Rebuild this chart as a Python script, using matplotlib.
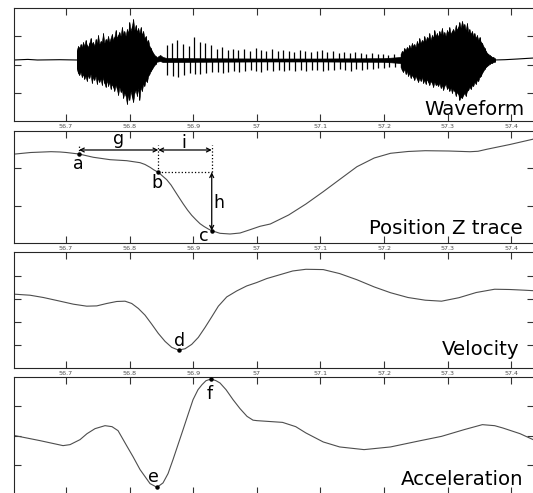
import matplotlib
matplotlib.use('Agg')
import matplotlib.pyplot as plt
import numpy as np

plt.rcParams['font.family'] = ['DejaVu Sans']

W, H = 533, 493
fig = plt.figure(figsize=(W / 100, H / 100), dpi=100)

# ---------------- data ----------------
x_ticks = [56.7, 56.8, 56.9, 57.0, 57.1, 57.2, 57.3, 57.4]
x_tick_labels = ['56.7', '56.8', '56.9', '57', '57.1', '57.2', '57.3', '57.4']
t_min, t_max = 56.6182, 57.4358

# Waveform (arbitrary amplitude units) -- envelope samples
wave_offset = 4.5
wave_dt = 0.00197
base_left_t = [56.6182, 56.640, 56.655, 56.690, 56.7169]
base_left_v = [0.0, 0.6, 0.0, 0.3, 0.0]
base_right_t = [57.3738, 57.39, 57.41, 57.425, 57.4358]
base_right_v = [0.0, 0.3, 1.0, 1.6, 2.0]

burst1_t0 = 56.7169
burst1_hi = [10, 14, 12, 16, 13, 18, 14, 20, 15, 13, 17, 22, 16, 18, 14, 21, 17, 25, 16, 19,
             18, 27, 17, 21, 19, 24, 18, 22, 26, 20, 23, 30, 22, 25, 28, 24, 33, 26, 29, 24,
             31, 27, 38, 29, 34, 41, 30, 35, 28, 32, 27, 33, 25, 29, 22, 24, 18, 20, 14, 12,
             9, 7, 5, 4]
burst1_lo = [9, 13, 15, 12, 17, 14, 19, 16, 21, 15, 18, 14, 23, 17, 20, 16, 24, 18, 22, 19,
             25, 17, 23, 27, 20, 26, 22, 29, 24, 27, 31, 25, 29, 35, 27, 32, 30, 38, 33, 36,
             44, 35, 40, 31, 37, 42, 33, 30, 36, 28, 40, 27, 31, 24, 26, 20, 22, 16, 14, 11,
             9, 7, 5, 4]

burst2_t0 = 57.2260
burst2_hi = [6, 9, 8, 12, 10, 13, 11, 15, 12, 17, 14, 16, 13, 19, 15, 22, 17, 20, 18, 24,
             19, 23, 21, 27, 20, 25, 22, 30, 24, 27, 23, 29, 26, 32, 25, 28, 24, 30, 27, 33,
             26, 29, 31, 28, 35, 30, 33, 38, 32, 39, 34, 36, 30, 37, 28, 31, 26, 29, 24, 27,
             22, 25, 20, 23, 18, 17, 14, 12, 9, 7, 6, 5, 4, 3, 3, 2]
burst2_lo = [7, 10, 12, 9, 14, 11, 16, 13, 18, 15, 17, 20, 16, 19, 22, 18, 21, 17, 23, 20,
             24, 19, 22, 25, 21, 23, 27, 22, 25, 24, 26, 23, 28, 25, 30, 26, 24, 29, 27, 31,
             28, 33, 29, 31, 36, 32, 34, 40, 37, 38, 35, 33, 36, 31, 30, 27, 29, 25, 26, 22,
             24, 20, 21, 17, 16, 13, 11, 9, 7, 6, 5, 4, 3, 3, 2, 2]

mid_t = [56.841, 56.848, 56.852, 56.858, 56.90, 57.00, 57.10, 57.20, 57.226]
mid_hi = [2, 5, 3, 2, 1.8, 1.5, 1.5, 1.8, 3]
mid_lo = [2, 1, 2, 2, 1.8, 1.5, 1.5, 1.8, 3]

pulse_t = [56.858, 56.867, 56.875, 56.884, 56.893, 56.902, 56.910, 56.919,
           56.928, 56.937, 56.945, 56.954, 56.963, 56.971, 56.980, 56.989,
           56.998, 57.006, 57.015, 57.024, 57.033, 57.041, 57.050, 57.059,
           57.068, 57.076, 57.085, 57.094, 57.102, 57.111, 57.120, 57.129,
           57.137, 57.146, 57.155, 57.164, 57.172, 57.181, 57.190, 57.198,
           57.207, 57.216]
pulse_hi = [15, 17, 20, 16, 14, 23, 18, 17, 15, 11, 13, 10, 11, 10, 11, 9,
            12, 10, 9, 11, 9, 10, 9, 8, 10, 9, 8, 9, 10, 8, 9, 7,
            8, 7, 8, 7, 6, 7, 6, 6, 5, 6]
pulse_lo = [15, 16, 17, 15, 13, 14, 14, 13, 12, 12, 13, 12, 11, 12, 11, 10,
            11, 12, 10, 11, 10, 11, 10, 11, 10, 11, 10, 10, 11, 10, 10, 9,
            10, 11, 9, 10, 9, 9, 8, 8, 7, 7]

# Position Z trace
pos_t = [56.6203, 56.6443, 56.6764, 56.6906, 56.7005, 56.7204, 56.7429, 56.7692,
         56.7954, 56.8164, 56.8242, 56.8321, 56.8384, 56.8451, 56.8517, 56.8583,
         56.8651, 56.8714, 56.8777, 56.8844, 56.8910, 56.8976, 56.9044, 56.9107,
         56.9170, 56.9237, 56.9291, 56.9421, 56.9579, 56.9736, 56.9893, 57.0050,
         57.0211, 57.0500, 57.0772, 57.1044, 57.1302, 57.1574, 57.1846, 57.2102,
         57.2376, 57.2648, 57.3017, 57.3352, 57.3478, 57.3615, 57.3981, 57.4358]
pos_v = [2.379, 2.419, 2.441, 2.433, 2.419, 2.379, 2.292, 2.228,
         2.201, 2.148, 2.100, 2.025, 1.953, 1.892, 1.793, 1.695,
         1.553, 1.386, 1.220, 1.047, 0.887, 0.746, 0.626, 0.522,
         0.448, 0.381, 0.336, 0.266, 0.248, 0.274, 0.362, 0.453,
         0.514, 0.754, 1.047, 1.375, 1.700, 2.041, 2.273, 2.398,
         2.446, 2.467, 2.459, 2.440, 2.452, 2.505, 2.633, 2.780]
pt_a = (56.7204, 2.379)
pt_b = (56.8451, 1.892)
pt_c = (56.9291, 0.336)
arrow_level = 2.486
guide_top = 2.627

# Velocity
vel_t = [56.6198, 56.6434, 56.6643, 56.6906, 56.7115, 56.7325, 56.7483, 56.7640,
         56.7797, 56.7928, 56.8033, 56.8137, 56.8242, 56.8347, 56.8451, 56.8557,
         56.8662, 56.8766, 56.8871, 56.8976, 56.9080, 56.9186, 56.9291, 56.9395,
         56.9527, 56.9684, 56.9841, 56.9998, 57.0156, 57.0564, 57.0772, 57.1044,
         57.1302, 57.1574, 57.1846, 57.2102, 57.2376, 57.2648, 57.2904, 57.3178,
         57.3450, 57.3739, 57.3980, 57.4219, 57.4358]
vel_v = [0.193, 0.150, 0.052, -0.107, -0.236, -0.322, -0.310, -0.206,
         -0.120, -0.107, -0.206, -0.421, -0.709, -1.096, -1.496, -1.840,
         -2.098, -2.214, -2.158, -1.969, -1.668, -1.238, -0.782, -0.322,
         0.077, 0.335, 0.550, 0.696, 0.868, 1.195, 1.268, 1.255,
         1.083, 0.817, 0.507, 0.258, 0.052, -0.064, -0.107, 0.043,
         0.267, 0.408, 0.396, 0.365, 0.344]
pt_d = (56.8781, -2.225)

# Acceleration
acc_t = [56.6198, 56.6591, 56.6953, 56.7063, 56.7220, 56.7330, 56.7456, 56.7613,
         56.7723, 56.7818, 56.7959, 56.8053, 56.8164, 56.8321, 56.8431, 56.8525,
         56.8604, 56.8682, 56.8761, 56.8840, 56.8918, 56.8997, 56.9075, 56.9138,
         56.9201, 56.9280, 56.9358, 56.9421, 56.9516, 56.9626, 56.9736, 56.9846,
         56.9940, 57.0003, 57.0404, 57.0612, 57.0772, 57.1044, 57.1302, 57.1686,
         57.2102, 57.2536, 57.2904, 57.3258, 57.3546, 57.3739, 57.3866, 57.4138,
         57.4358]
acc_v = [0.000, -0.171, -0.342, -0.308, -0.137, 0.068, 0.240, 0.342,
         0.308, 0.171, -0.366, -0.719, -1.164, -1.644, -1.771, -1.620,
         -1.301, -0.822, -0.308, 0.205, 0.719, 1.233, 1.575, 1.747,
         1.884, 1.942, 1.884, 1.805, 1.575, 1.233, 0.925, 0.661,
         0.531, 0.514, 0.455, 0.308, 0.092, -0.216, -0.387, -0.479,
         -0.387, -0.188, -0.024, 0.205, 0.377, 0.342, 0.264, 0.068,
         -0.150]
pt_e = (56.8426, -1.771)
pt_f = (56.9280, 1.942)

# ---------------- layout ----------------
LEFT, RIGHT = 14, 534


def rect(top, bottom):
    return [LEFT / W, 1 - bottom / H, (RIGHT - LEFT) / W, (bottom - top) / H]


def style(ax, ylim, yticks, labels=True):
    ax.set_xlim(t_min, t_max)
    ax.set_ylim(*ylim)
    ax.set_xticks(x_ticks)
    ax.set_xticklabels(x_tick_labels)
    ax.set_yticks(yticks)
    ax.set_yticklabels([])
    ax.tick_params(axis='both', direction='in', length=5, width=0.8,
                   color='0.2', top=True, right=True)
    ax.tick_params(axis='x', labelsize=4.6, labelcolor='0.3', pad=2,
                   labelbottom=labels)
    for s in ax.spines.values():
        s.set_color('0.15')
        s.set_linewidth(0.8)


def panel_label(ax, text, x, y):
    ax.text(x, y, text, transform=ax.transAxes, ha='right', va='baseline',
            fontsize=14.2, color='k', zorder=5)


curve_kw = dict(color='0.3', lw=0.8)
pt_kw = dict(marker='o', ms=2.2, color='k', ls='none', zorder=4)
lab_kw = dict(textcoords='offset points', ha='center', va='baseline',
              fontsize=12.5, color='k')

ax1 = fig.add_axes(rect(8, 121))
ax2 = fig.add_axes(rect(130.7, 243.3))
ax3 = fig.add_axes(rect(252.3, 368.3))
ax4 = fig.add_axes(rect(377.3, 494))

# ---- Waveform ----
style(ax1, (-56.5, 56.5), [-28.25, 0, 28.25])
ax1.plot(base_left_t, np.array(base_left_v) + wave_offset, color='k', lw=0.8)
ax1.plot(base_right_t, np.array(base_right_v) + wave_offset, color='k', lw=0.8)
ax1.fill_between(mid_t, wave_offset - np.array(mid_lo), wave_offset + np.array(mid_hi),
                 color='k', lw=0.5)
for t0, bh, bl in [(burst1_t0, burst1_hi, burst1_lo), (burst2_t0, burst2_hi, burst2_lo)]:
    bt = t0 + wave_dt * np.arange(len(bh))
    lo = wave_offset - np.array(bl)
    hi = wave_offset + np.array(bh)
    ax1.fill_between(bt, lo, hi, color='k', lw=0.4)
    ax1.vlines(bt, lo, hi, color='k', lw=0.7)
ax1.vlines(pulse_t, wave_offset, wave_offset + np.array(pulse_hi), color='k', lw=0.9)
ax1.vlines(np.array(pulse_t) + 0.0013, wave_offset - np.array(pulse_lo), wave_offset,
           color='k', lw=0.9)
panel_label(ax1, 'Waveform', 0.981, 0.053)

# ---- Position Z ----
style(ax2, (0, 3), [1, 2])
ax2.plot(pos_t, pos_v, **curve_kw)
ax2.plot([pt_a[0], pt_b[0], pt_c[0]], [pt_a[1], pt_b[1], pt_c[1]], **pt_kw)
dot_kw = dict(color='k', lw=0.9, ls=':')
ax2.plot([pt_a[0], pt_a[0]], [pt_a[1], guide_top], **dot_kw)
ax2.plot([pt_b[0], pt_b[0]], [pt_b[1], guide_top], **dot_kw)
ax2.plot([pt_c[0], pt_c[0]], [pt_b[1], guide_top], **dot_kw)
ax2.plot([pt_b[0], pt_c[0]], [pt_b[1], pt_b[1]], **dot_kw)
arr = dict(arrowstyle='<->', lw=0.9, color='k', mutation_scale=7,
           shrinkA=0, shrinkB=0)
ax2.annotate('', xy=(pt_a[0], arrow_level), xytext=(pt_b[0], arrow_level), arrowprops=arr)
ax2.annotate('', xy=(pt_b[0], arrow_level), xytext=(pt_c[0], arrow_level), arrowprops=arr)
ax2.annotate('', xy=(pt_c[0], pt_b[1]), xytext=(pt_c[0], pt_c[1]), arrowprops=arr)
ax2.annotate('a', xy=pt_a, xytext=(-0.5, -10.6), **lab_kw)
ax2.annotate('b', xy=pt_b, xytext=(-1.2, -11.3), **lab_kw)
ax2.annotate('c', xy=pt_c, xytext=(-6, -7.6), **lab_kw)
ax2.annotate('g', xy=((pt_a[0] + pt_b[0]) / 2, arrow_level), xytext=(-0.3, 4.3), **lab_kw)
ax2.annotate('i', xy=((pt_b[0] + pt_c[0]) / 2, arrow_level), xytext=(-0.7, 1.4), **lab_kw)
ax2.annotate('h', xy=(pt_c[0], (pt_b[1] + pt_c[1]) / 2), xytext=(5.5, -4.5), **lab_kw)
panel_label(ax2, 'Position Z trace', 0.979, 0.083)

# ---- Velocity ----
style(ax3, (-3, 2), [-2, -1, 0, 1])
ax3.plot(vel_t, vel_v, **curve_kw)
ax3.plot(*pt_d, **pt_kw)
ax3.annotate('d', xy=pt_d, xytext=(0.5, 2.9), **lab_kw)
panel_label(ax3, 'Velocity', 0.973, 0.115)

# ---- Acceleration ----
style(ax4, (-2, 2), [-1, 0, 1], labels=False)
ax4.plot(acc_t, acc_v, **curve_kw)
ax4.plot([pt_e[0], pt_f[0]], [pt_e[1], pt_f[1]], **pt_kw)
ax4.annotate('e', xy=pt_e, xytext=(-2.4, 3.6), **lab_kw)
ax4.annotate('f', xy=pt_f, xytext=(-1.2, -14.4), **lab_kw)
panel_label(ax4, 'Acceleration', 0.979, 0.077)

fig.savefig('out.png', dpi=100)
